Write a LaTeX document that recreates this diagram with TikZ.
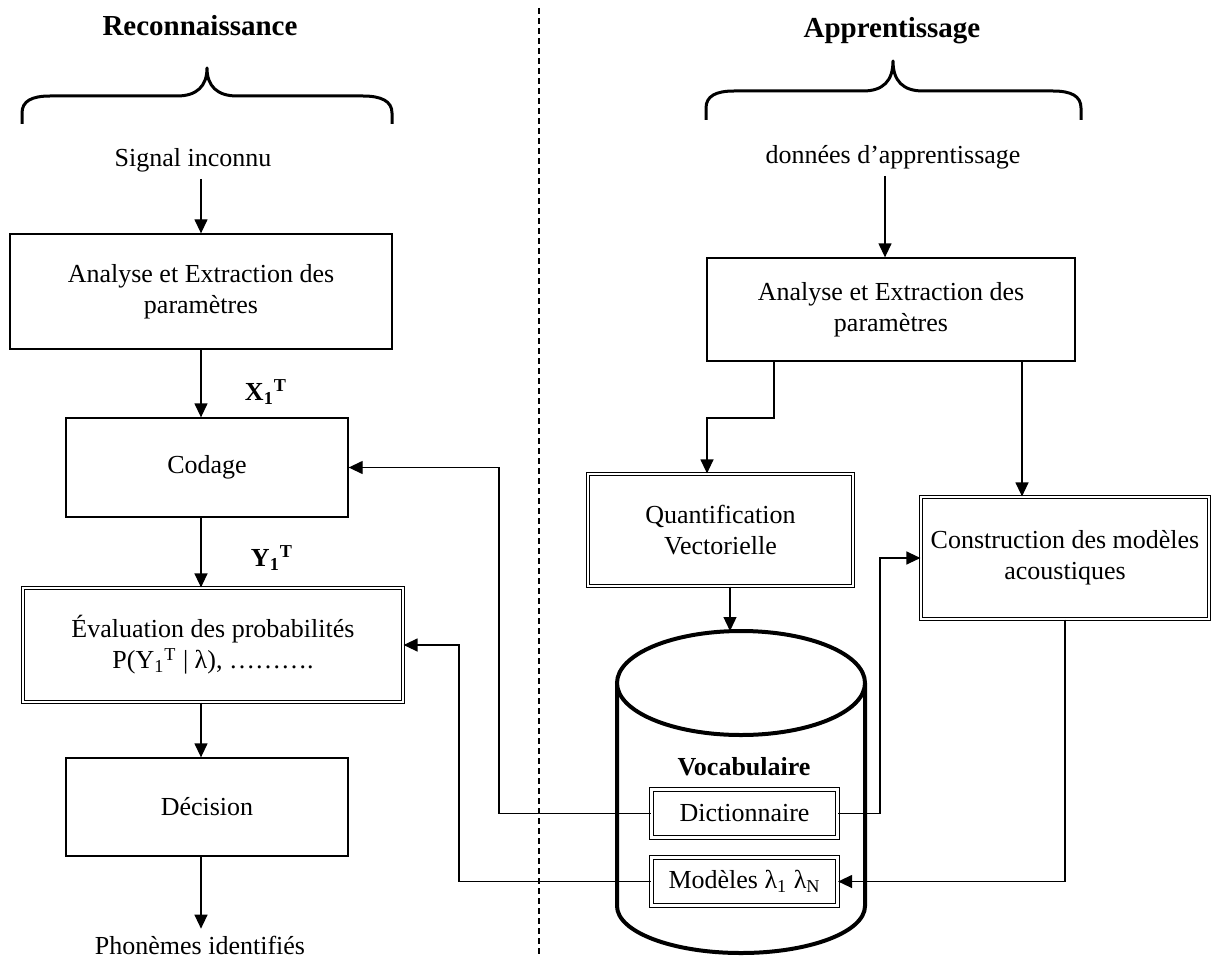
\documentclass[tikz,border=0pt]{standalone}
\usepackage{fontspec}
\setmainfont{Liberation Serif}
\usetikzlibrary{arrows.meta,calc}
\begin{document}
\begin{tikzpicture}[x=0.5pt,y=-0.5pt,
  every node/.style={font=\fontsize{13}{15.5}\selectfont},
  title/.style={font=\fontsize{14.5}{17}\selectfont\bfseries,anchor=base},
  sz/.style 2 args={minimum width=#1*0.5pt,minimum height=#2*0.5pt},
  plainbox/.style={draw,line width=0.65pt,inner sep=0pt,align=center},
  dblbox/.style={draw,double,double distance=1.1pt,line width=0.6pt,inner sep=0pt,align=center,fill=white},
  arr/.style={line width=0.65pt,-{Triangle[length=7pt,width=6.5pt]}},
  link/.style={line width=0.65pt},
  brace/.style={line width=1.5pt,line join=round},
  tank/.style={line width=2pt},
  sep/.style={line width=0.6pt,dash pattern=on 3pt off 2pt}
]
\useasboundingbox (0,0) rectangle (1214,957);

% headings and braces
\node[title] (rec) at (200,36) {Reconnaissance};
\node[title] (app) at (892,38) {Apprentissage};
\draw[brace] (22,124) -- (22,113) .. controls (22,101) and (32,96) .. (50,96)
  -- (177,96) .. controls (197,96) and (207,86) .. (207,68)
  .. controls (207,86) and (217,96) .. (237,96) -- (363,96)
  .. controls (381,96) and (392,101) .. (392,113) -- (392,124);
\draw[brace] (706,120) -- (706,108) .. controls (706,96) and (716,91) .. (734,91)
  -- (863,91) .. controls (883,91) and (893,81) .. (893,61)
  .. controls (893,81) and (903,91) .. (923,91) -- (1053,91)
  .. controls (1071,91) and (1081,96) .. (1081,108) -- (1081,120);

% separator
\draw[sep] (539,8) -- (539,957);

% recognition chain
\node (sig) at (193,160) {Signal inconnu};
\node[plainbox,sz={382}{115}] (an1) at (201,291.5) {Analyse et Extraction des\\paramètres};
\node[plainbox,sz={282}{99}] (cod) at (207,467.5) {Codage};
\node[dblbox,sz={380}{114}] (eval) at (213,645)
  {Évaluation des probabilités\\P(Y\textsubscript{1}\textsuperscript{T} | λ), ……….};
\node[plainbox,sz={282}{98}] (dec) at (207,807) {Décision};
\node (phon) at (200,945) {Phonèmes identifiés};
\node[font=\fontsize{13}{15.5}\selectfont\bfseries] (x1) at (266,392) {X\textsubscript{1}\textsuperscript{T}};
\node[font=\fontsize{13}{15.5}\selectfont\bfseries] (y1) at (272,558) {Y\textsubscript{1}\textsuperscript{T}};

\coordinate (cl) at (201,0);
\draw[arr] (cl |- sig.south) -- (cl |- an1.north);
\draw[arr] (cl |- an1.south) -- (cl |- cod.north);
\draw[arr] (cl |- cod.south) -- (cl |- eval.north);
\draw[arr] (cl |- eval.south) -- (cl |- dec.north);
\draw[arr] (cl |- dec.south) -- (cl |- phon.north);

% learning chain
\node (don) at (893,157) {données d’apprentissage};
\node[plainbox,sz={368}{103}] (an2) at (891,309.5) {Analyse et Extraction des\\paramètres};
\node[dblbox,sz={265}{112}] (quant) at (720.5,530) {Quantification\\Vectorielle};
\node[dblbox,sz={288}{122}] (cons) at (1065,558) {Construction des modèles\\acoustiques};

% vocabulary store
\draw[tank,fill=white] (617,683) -- (617,906) arc[start angle=180,end angle=0,x radius=124,y radius=47]
  -- (865,683);
\draw[tank,fill=white] (741,683) ellipse[x radius=124,y radius=52];
\coordinate (cyltop) at (730,631);
\node[font=\fontsize{13}{15.5}\selectfont\bfseries] (voc) at (744,767) {Vocabulaire};
\node[dblbox,sz={186}{48}] (dict) at (744.5,813.5) {Dictionnaire};
\node[dblbox,sz={186}{48}] (mod) at (744.5,881.5) {Modèles λ\textsubscript{1} λ\textsubscript{N}};

\coordinate (ca) at (885,0);
\coordinate (cq) at (774,0);
\coordinate (cc) at (1022,0);
\coordinate (jd) at (499,0);
\coordinate (jm) at (459,0);
\coordinate (jc) at (880,0);

\draw[arr] (ca |- don.south) -- (ca |- an2.north);
\draw[arr] (cq |- an2.south) -- (774,418) -| ($(quant.north)+(-13.5,0)$);
\draw[arr] (cc |- an2.south) -- (cc |- cons.north);
\draw[arr] (quant.south -| cyltop) -- (cyltop);

% links from the store
\draw[arr] (dict.west) -- (dict.west -| jd) |- (cod.east);
\draw[arr] (mod.west) -- (mod.west -| jm) |- (eval.east);
\draw[arr] (dict.east) -- (dict.east -| jc) |- (cons.west);
\draw[arr] (cons.south) |- (mod.east);
\end{tikzpicture}
\end{document}
